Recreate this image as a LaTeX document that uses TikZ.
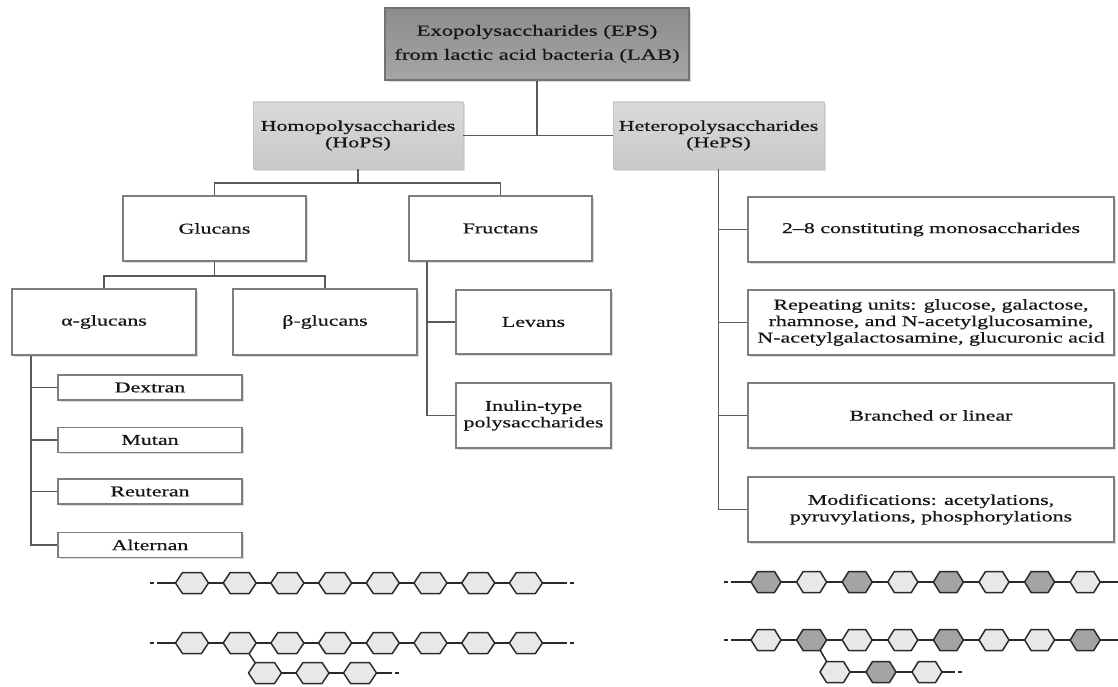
\documentclass[tikz,border=0pt]{standalone}
\usepackage{fontspec}
\setmainfont{Liberation Serif}[FakeStretch=1.46,FakeBold=0.6]
\usetikzlibrary{shadows}
\definecolor{lnc}{HTML}{5A5A5A}
\definecolor{bdc}{HTML}{7E7E7E}
\definecolor{txc}{HTML}{161616}
\definecolor{topA}{HTML}{8C8C8C}
\definecolor{topB}{HTML}{A6A6A6}
\definecolor{midA}{HTML}{DADADA}
\definecolor{midB}{HTML}{C8C8C8}
\definecolor{hexL}{HTML}{E8E8E8}
\definecolor{hexD}{HTML}{A4A4A4}
\definecolor{hexS}{HTML}{2A2A2A}
% x, y, half width, half flat, half height, fill
\newcommand\hexg[6]{%
  \filldraw[hexline,fill=#6] (#1-#3,#2) -- (#1-#4,#2-#5) -- (#1+#4,#2-#5) -- (#1+#3,#2) -- (#1+#4,#2+#5) -- (#1-#4,#2+#5) -- cycle;}
\begin{document}
\begin{tikzpicture}[x=1pt,y=-1pt,
  box/.style={draw=bdc,line width=1.5pt,fill=white,align=center,text=txc,inner sep=1pt,
    font=\fontsize{15}{16.5}\selectfont,
    drop shadow={shadow xshift=1.5pt,shadow yshift=-1.8pt,opacity=0.3,fill=black!45}},
  topbox/.style={box,draw=gray!90!black,top color=topA,bottom color=topB,font=\fontsize{15.5}{24}\selectfont},
  midbox/.style={box,draw=gray!45,line width=0.8pt,top color=midA,bottom color=midB},
  conn/.style={draw=lnc,line width=1.6pt},
  hexline/.style={draw=hexS,line width=1.5pt,line join=round}]
\useasboundingbox (0,0) rectangle (1118,687);

% ---- nodes ----
\node[topbox,minimum width=304pt,minimum height=72pt] (top) at (537,44)
  {Exopolysaccharides (EPS)\\from lactic acid bacteria (LAB)};
\node[midbox,minimum width=210pt,minimum height=67pt] (hops) at (358,135.5)
  {Homopolysaccharides\\(HoPS)};
\node[midbox,minimum width=211pt,minimum height=67pt] (heps) at (718.5,135.5)
  {Heteropolysaccharides\\(HePS)};

\node[box,minimum width=183pt,minimum height=65pt] (glucans) at (214.5,228.5) {Glucans};
\node[box,minimum width=183pt,minimum height=65pt] (fructans) at (500.5,228.5) {Fructans};

\node[box,minimum width=184pt,minimum height=66pt] (alpha) at (104,322) {α-glucans};
\node[box,minimum width=184pt,minimum height=66pt] (beta) at (325,322) {β-glucans};

\node[box,minimum width=155pt,minimum height=64pt] (levans) at (533.5,322) {Levans};
\node[box,minimum width=155pt,minimum height=65pt] (inulin) at (533.5,415.5) {Inulin-type\\polysaccharides};

\node[box,minimum width=184pt,minimum height=25pt] (dextran) at (150,387.5) {Dextran};
\node[box,minimum width=184pt,minimum height=25pt] (mutan) at (150,440) {Mutan};
\node[box,minimum width=184pt,minimum height=25pt] (reuteran) at (150,491.5) {Reuteran};
\node[box,minimum width=184pt,minimum height=25pt] (alternan) at (150,545) {Alternan};

\node[box,minimum width=366pt,minimum height=65pt] (r1) at (931,229.5) {2–8 constituting monosaccharides};
\node[box,minimum width=366pt,minimum height=65pt] (r2) at (931,322.5)
  {Repeating units: glucose, galactose,\\rhamnose, and N-acetylglucosamine,\\N-acetylgalactosamine, glucuronic acid};
\node[box,minimum width=366pt,minimum height=65pt] (r3) at (931,415.5) {Branched or linear};
\node[box,minimum width=366pt,minimum height=65pt] (r4) at (931,509.5)
  {Modifications: acetylations,\\pyruvylations, phosphorylations};

% ---- connectors ----
\draw[conn] (top.south) -- (top.south |- hops.east);
\draw[conn] (hops.east) -- (heps.west);

\coordinate (hj) at (358,183);
\draw[conn] (hops.south) -- (hj);
\draw[conn] (glucans.north) |- (hj) -| (fructans.north);

\coordinate (gj) at (214.5,276);
\draw[conn] (glucans.south) -- (gj);
\draw[conn] (alpha.north) |- (gj) -| (beta.north);

\draw[conn] ([xshift=20pt]alpha.south west) |- (alternan.west);
\foreach \n in {dextran,mutan,reuteran} \draw[conn] (\n.west) -- ++(-26,0);

\draw[conn] ([xshift=19pt]fructans.south west) |- (inulin.west);
\draw[conn] (levans.west) -- ++(-28,0);

\draw[conn] (heps.south) |- (r4.west);
\foreach \n in {r1,r2,r3} \draw[conn] (\n.west) -- ++(-29.5,0);

% ---- hexagon chains (left, homopolysaccharides) ----
\draw[hexline] (157,583) -- (567,583);
\draw[hexline] (150,583) -- (153.5,583);
\draw[hexline] (570,583) -- (573.5,583);
\foreach \i in {0,...,7} \hexg{192+47.7*\i}{583}{16.5}{9.5}{10.5}{hexL};

\draw[hexline] (157,643) -- (567,643);
\draw[hexline] (150,643) -- (153.5,643);
\draw[hexline] (570,643) -- (573.5,643);
\draw[hexline] (248,652) -- (256,664);
\draw[hexline] (265,673) -- (392,673);
\draw[hexline] (395,673) -- (398.5,673);
\foreach \i in {0,...,7} \hexg{192+47.7*\i}{643}{16.5}{9.5}{10.5}{hexL};
\foreach \i in {0,1,2} \hexg{265+47.5*\i}{673}{16.5}{9.5}{10.5}{hexL};

% ---- hexagon chains (right, heteropolysaccharides) ----
\draw[hexline] (731,582) -- (1118,582);
\draw[hexline] (724,582) -- (728,582);
\foreach \i/\c in {0/hexD,1/hexL,2/hexD,3/hexL,4/hexD,5/hexL,6/hexD,7/hexL}
  \hexg{766+45.6*\i}{582}{15}{8.5}{10.5}{\c};

\draw[hexline] (731,640) -- (1118,640);
\draw[hexline] (724,640) -- (728,640);
\draw[hexline] (820,650) -- (827,662);
\draw[hexline] (835,672) -- (955,672);
\draw[hexline] (958,672) -- (962,672);
\foreach \i/\c in {0/hexL,1/hexD,2/hexL,3/hexL,4/hexD,5/hexL,6/hexL,7/hexD}
  \hexg{766+45.6*\i}{640}{15}{8.5}{10.5}{\c};
\foreach \i/\c in {0/hexL,1/hexD,2/hexL}
  \hexg{835+46*\i}{672}{15}{8.5}{10.5}{\c};
\end{tikzpicture}
\end{document}
